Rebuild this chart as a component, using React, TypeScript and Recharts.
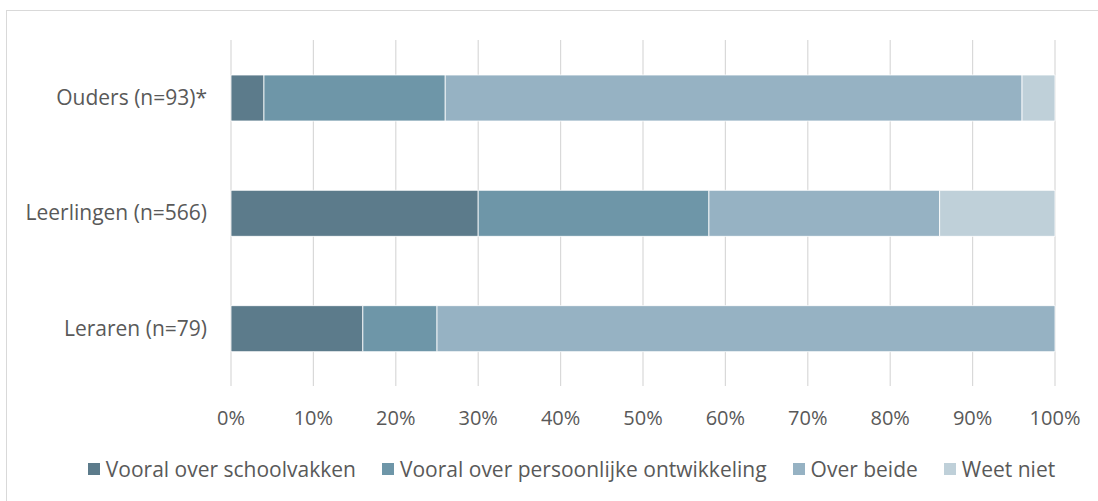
import { Bar, BarChart, CartesianGrid, Legend, XAxis, YAxis } from "recharts"

const groups = ["Ouders (n=93)*", "Leerlingen (n=566)", "Leraren (n=79)"]
const seriesNames = [
  "Vooral over schoolvakken",
  "Vooral over persoonlijke ontwikkeling",
  "Over beide",
  "Weet niet",
]
const schoolvakken = [4, 30, 16]
const persoonlijk = [22, 28, 9]
const beide = [70, 28, 75]
const weetNiet = [4, 14, 0]
const pctTicks = [0, 10, 20, 30, 40, 50, 60, 70, 80, 90, 100]

const colors = ["#5c7b8b", "#6e96a8", "#96b2c3", "#bfd0d9"]
const keys = ["s1", "s2", "s3", "s4"]

const data = groups.map((g, i) => ({
  name: g,
  s1: schoolvakken[i],
  s2: persoonlijk[i],
  s3: beide[i],
  s4: weetNiet[i],
}))

const font = "'Open Sans', sans-serif"

function LegendBox() {
  return (
    <div
      style={{
        display: "flex",
        justifyContent: "center",
        alignItems: "center",
        paddingLeft: 88,
        height: 24,
        fontFamily: font,
        fontSize: 21,
        color: "#595959",
        whiteSpace: "nowrap",
      }}
    >
      {seriesNames.map((n, i) => (
        <div key={n} style={{ display: "flex", alignItems: "center", marginRight: i < 3 ? 26 : 0 }}>
          <span style={{ width: 12, height: 12, background: colors[i], marginRight: 6, display: "inline-block" }} />
          <span>{n}</span>
        </div>
      ))}
    </div>
  )
}

export default function App() {
  return (
    <div style={{ position: "absolute", left: 0, top: 0, width: 1098, height: 501, background: "#fff", overflow: "hidden" }}>
      <div
        style={{
          position: "absolute",
          left: 6,
          top: 10,
          width: 1110,
          height: 520,
          border: "1.5px solid #d9d9d9",
        }}
      />
      <BarChart
        width={1098}
        height={501}
        data={data}
        layout="vertical"
        barSize={46}
        margin={{ top: 40, right: 43, bottom: 20, left: 0 }}
      >
        <CartesianGrid horizontal={false} stroke="#d9d9d9" strokeWidth={1.2} />
        <XAxis
          type="number"
          domain={[0, 100]}
          ticks={pctTicks}
          tickFormatter={(v) => `${v}%`}
          tick={{ fill: "#595959", fontSize: 20, fontFamily: font }}
          tickLine={false}
          axisLine={false}
          tickSize={0}
          tickMargin={25}
          height={71}
          interval={0}
        />
        <YAxis
          type="category"
          dataKey="name"
          width={231}
          tick={{ fill: "#595959", fontSize: 21, fontFamily: font }}
          tickLine={false}
          axisLine={false}
          tickSize={0}
          tickMargin={24}
        />
        <Legend verticalAlign="bottom" content={() => <LegendBox />} />
        {keys.map((k, i) => (
          <Bar
            key={k}
            dataKey={k}
            name={seriesNames[i]}
            stackId="a"
            fill={colors[i]}
            stroke="#ffffff"
            strokeWidth={0.8}
            isAnimationActive={false}
          />
        ))}
      </BarChart>
    </div>
  )
}
